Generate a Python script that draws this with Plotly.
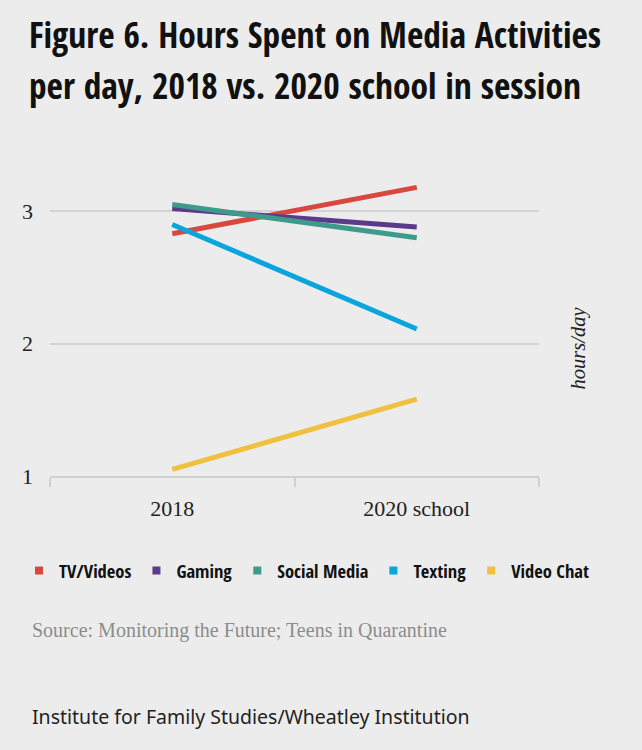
import plotly.graph_objects as go

categories = ["2018", "2020 school"]
series_names = ["TV/Videos", "Gaming", "Social Media", "Texting", "Video Chat"]
tv_videos = [2.83, 3.18]
gaming = [3.02, 2.88]
social_media = [3.05, 2.80]
texting = [2.90, 2.11]
video_chat = [1.05, 1.58]
y_ticks = [1, 2, 3]
title_lines = ["Figure 6. Hours Spent on Media Activities", "per day, 2018 vs. 2020 school in session"]

values = [tv_videos, gaming, social_media, texting, video_chat]
colors = ["#d8483e", "#5b3a8b", "#3e9a8b", "#0ba5dd", "#f0c040"]

COND = "Open Sans Condensed, Roboto Condensed, sans-serif"
SERIF = "Liberation Serif, DejaVu Serif, serif"
BG = "#ececec"

fig = go.Figure()
for name, vals, col in zip(series_names, values, colors):
    fig.add_trace(go.Scatter(x=categories, y=vals, mode="lines", name=name,
                             line=dict(color=col, width=5), showlegend=False))
for name, col in zip(series_names, colors):
    fig.add_trace(go.Scatter(x=[None], y=[None], mode="markers", name=name,
                             marker=dict(symbol="square", size=8, color=col)))

PW, PL, PB = 489, 50, 476  # plot width, left px, bottom px
PH = 331


def px_x(x):
    return (x - PL) / PW


def px_y(y):
    return (PB - y) / PH


fig.update_layout(
    width=642, height=750,
    paper_bgcolor=BG, plot_bgcolor=BG,
    margin=dict(l=50, r=103, t=145, b=274),
    showlegend=True,
    legend=dict(orientation="h", x=px_x(594), xanchor="right", y=px_y(571), yanchor="middle",
                font=dict(family=COND, size=18.5, color="#111111", weight="bold"),
                bgcolor="rgba(0,0,0,0)", itemwidth=30),
    xaxis=dict(type="category", range=[-0.5, 1.5], showgrid=False,
               showline=True, linecolor="#d0d0d0", linewidth=2,
               ticks="outside", tickson="boundaries", ticklen=9, tickcolor="#d0d0d0",
               tickwidth=2, ticklabelstandoff=12,
               tickfont=dict(family=SERIF, size=22, color="#222222")),
    yaxis=dict(range=[1, 3.5], tickvals=y_ticks, showgrid=True, gridcolor="#d3d3d3",
               gridwidth=1.5, zeroline=False, showline=False,
               tickfont=dict(family=SERIF, size=22, color="#222222"), ticklabelstandoff=16),
    annotations=[
        dict(text="<b>" + title_lines[0] + "</b>", x=px_x(27), y=px_y(34), xref="paper", yref="paper",
             xanchor="left", yanchor="middle", showarrow=False,
             font=dict(family=COND, size=35.5, color="#111111")),
        dict(text="<b>" + title_lines[1] + "</b>", x=px_x(27), y=px_y(85), xref="paper", yref="paper",
             xanchor="left", yanchor="middle", showarrow=False,
             font=dict(family=COND, size=35.5, color="#111111")),
        dict(text="<i>hours/day</i>", x=px_x(591), y=px_y(348), xref="paper", yref="paper",
             textangle=-90, showarrow=False, font=dict(family=SERIF, size=20.5, color="#222222")),
        dict(text="Source: Monitoring the Future; Teens in Quarantine", xref="paper", yref="paper",
             x=px_x(30), y=px_y(630), xanchor="left", yanchor="middle", showarrow=False,
             font=dict(family=SERIF, size=20, color="#8c8c8c")),
        dict(text="Institute for Family Studies/Wheatley Institution", xref="paper", yref="paper",
             x=px_x(30), y=px_y(716), xanchor="left", yanchor="middle", showarrow=False,
             font=dict(family="Noto Sans, Open Sans, sans-serif", size=19.5, color="#222222")),
    ],
)

fig.write_html("out.html", config={"displayModeBar": False},
               post_script="document.body.style.margin='0';")
